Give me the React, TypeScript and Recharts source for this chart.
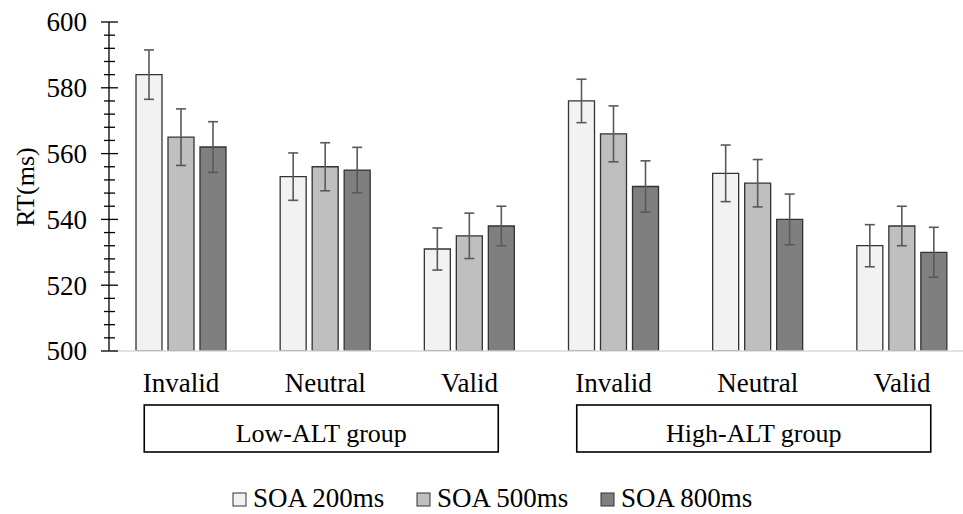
import { BarChart, Bar, XAxis, YAxis, ErrorBar } from "recharts";

const categories = ["Invalid", "Neutral", "Valid", "Invalid", "Neutral", "Valid"];
const groups = [
  "Low-ALT group",
  "Low-ALT group",
  "Low-ALT group",
  "High-ALT group",
  "High-ALT group",
  "High-ALT group",
];
const soa200 = [584, 553, 531, 576, 554, 532];
const soa500 = [565, 556, 535, 566, 551, 538];
const soa800 = [562, 555, 538, 550, 540, 530];
const err200 = [7.5, 7.2, 6.4, 6.6, 8.6, 6.4];
const err500 = [8.6, 7.3, 6.9, 8.5, 7.2, 6.0];
const err800 = [7.7, 6.9, 6.0, 7.8, 7.7, 7.6];

const yTicks = [
  500, 504, 508, 512, 516, 520, 524, 528, 532, 536, 540, 544, 548, 552, 556,
  560, 564, 568, 572, 576, 580, 584, 588, 592, 596, 600,
];
const yLabels = [500, 520, 540, 560, 580, 600];

const seriesNames = ["SOA 200ms", "SOA 500ms", "SOA 800ms"];
const fills = ["#F2F2F2", "#BFBFBF", "#7F7F7F"];

const data = categories.map((name, i) => ({
  name,
  group: groups[i],
  s200: soa200[i],
  s500: soa500[i],
  s800: soa800[i],
  e200: err200[i],
  e500: err500[i],
  e800: err800[i],
}));

const FONT = '"Liberation Serif", "Times New Roman", serif';

const YTick = (props: any) => {
  const { x, y, payload } = props;
  const major = yLabels.includes(payload.value);
  return (
    <g>
      <line
        x1={major ? x - 8 : x - 5}
        x2={major ? x + 9 : x + 6}
        y1={y}
        y2={y}
        stroke="#000"
        strokeWidth={1.3}
      />
      {major && (
        <text
          x={x - 22}
          y={y}
          dy="0.35em"
          textAnchor="end"
          fontSize={27}
          fontFamily={FONT}
          fill="#000"
        >
          {payload.value}
        </text>
      )}
    </g>
  );
};

const CatTick = (props: any) => {
  const { x, y, payload } = props;
  return (
    <text
      x={x}
      y={y + 41}
      textAnchor="middle"
      fontSize={27}
      fontFamily={FONT}
      fill="#000"
    >
      {payload.value}
    </text>
  );
};

const GroupTick = (props: any) => {
  const { x, y, payload } = props;
  const w = 354;
  return (
    <g>
      <rect
        x={x - w / 2 - 4}
        y={y + 4}
        width={w}
        height={47}
        fill="#fff"
        stroke="#000"
        strokeWidth={1.6}
      />
      <text
        x={x - 4}
        y={y + 41}
        textAnchor="middle"
        fontSize={26}
        fontFamily={FONT}
        fill="#000"
      >
        {payload.value}
      </text>
    </g>
  );
};

const App = () => {
  const keys = ["s200", "s500", "s800"];
  const errKeys = ["e200", "e500", "e800"];
  return (
    <div
      style={{
        position: "absolute",
        left: 0,
        top: 0,
        width: 963,
        height: 514,
        overflow: "hidden",
        background: "#fff",
      }}
    >
      <BarChart
        width={974}
        height={514}
        data={data}
        margin={{ top: 22, right: 0, left: 0, bottom: 62 }}
        barGap={6}
        barSize={26}
      >
        <YAxis
          width={109}
          domain={[500, 600]}
          ticks={yTicks}
          interval={0}
          allowDataOverflow
          tickLine={false}
          tickSize={0}
          tickMargin={0}
          axisLine={{ stroke: "#000", strokeWidth: 1.3 }}
          tick={<YTick />}
        />
        <XAxis
          dataKey="name"
          height={50}
          interval={0}
          tickLine={false}
          tickSize={0}
          tickMargin={0}
          axisLine={{ stroke: "#D9D9D9", strokeWidth: 1.5 }}
          tick={<CatTick />}
        />
        <XAxis
          xAxisId="grp"
          dataKey="group"
          allowDuplicatedCategory={false}
          height={51}
          interval={0}
          tickLine={false}
          tickSize={0}
          tickMargin={0}
          axisLine={false}
          tick={<GroupTick />}
        />
        {keys.map((k, i) => (
          <Bar
            key={k}
            dataKey={k}
            name={seriesNames[i]}
            fill={fills[i]}
            stroke="#333"
            strokeWidth={1.3}
            isAnimationActive={false}
          >
            <ErrorBar
              dataKey={errKeys[i]}
              width={5}
              stroke="#595959"
              strokeWidth={1.6}
              direction="y"
            />
          </Bar>
        ))}
      </BarChart>
      <svg
        width={963}
        height={514}
        style={{ position: "absolute", left: 0, top: 0, pointerEvents: "none" }}
      >
        <text
          transform="translate(34,187) rotate(-90)"
          textAnchor="middle"
          fontSize={26}
          fontFamily={FONT}
          fill="#000"
        >
          RT(ms)
        </text>
        {seriesNames.map((n, i) => (
          <g key={n}>
            <rect
              x={233 + i * 184}
              y={493}
              width={13}
              height={13}
              fill={fills[i]}
              stroke="#333"
              strokeWidth={1}
            />
            <text
              x={253 + i * 184}
              y={507}
              fontSize={27}
              fontFamily={FONT}
              fill="#000"
            >
              {n}
            </text>
          </g>
        ))}
      </svg>
    </div>
  );
};

export default App;
